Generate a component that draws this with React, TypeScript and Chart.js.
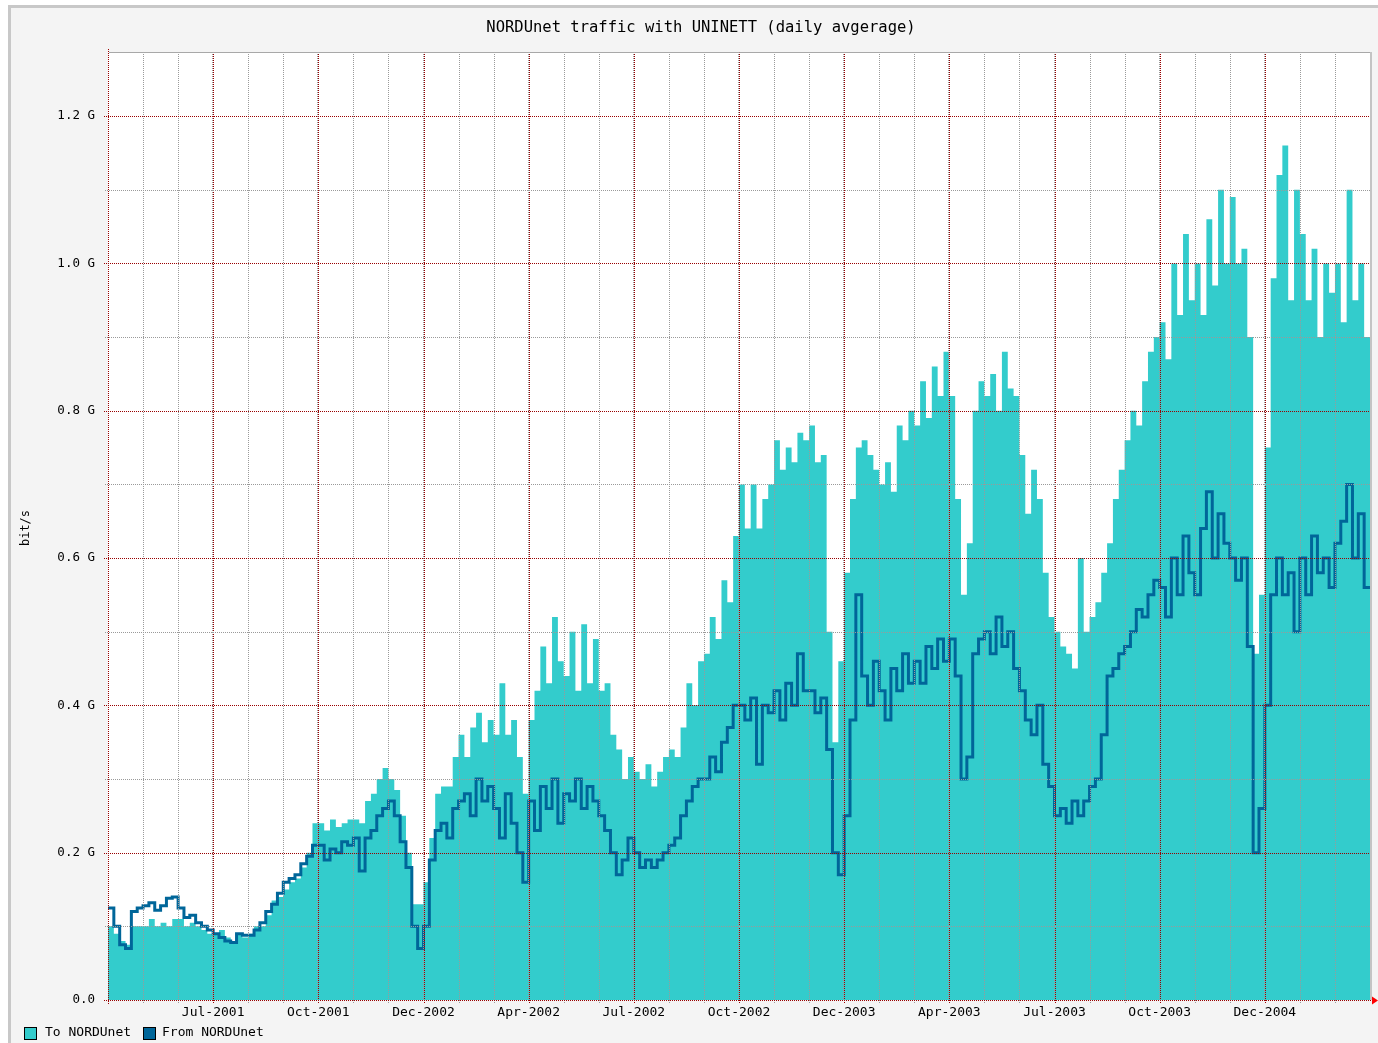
import React, { useEffect, useRef } from 'react';
import { Chart, registerables } from 'chart.js';

Chart.register(...registerables);

const MONO = '"DejaVu Sans Mono", "Liberation Mono", monospace';

// x axis: months since 1 Apr 2001 (0 .. 36), six samples per month
const SAMPLES_PER_MONTH = 6;
const MONTHS = 36;
const xLabelMonths = [3, 6, 9, 12, 15, 18, 21, 24, 27, 30, 33];
const xTickLabels = [
  'Jul-2001', 'Oct-2001', 'Dec-2002', 'Apr-2002', 'Jul-2002', 'Oct-2002',
  'Dec-2003', 'Apr-2003', 'Jul-2003', 'Oct-2003', 'Dec-2004',
];
const yTickValues = [0, 0.1, 0.2, 0.3, 0.4, 0.5, 0.6, 0.7, 0.8, 0.9, 1.0, 1.1, 1.2];
const yMax = 1.287;

// To NORDUnet (Gbit/s), one row per month
const toNordunet = [
  0.1, 0.09, 0.08, 0.075, 0.1, 0.1,
  0.1, 0.11, 0.1, 0.105, 0.1, 0.11,
  0.11, 0.1, 0.105, 0.1, 0.095, 0.09,
  0.09, 0.095, 0.085, 0.08, 0.09, 0.085,
  0.09, 0.1, 0.1, 0.115, 0.135, 0.14,
  0.15, 0.16, 0.165, 0.18, 0.2, 0.24,
  0.24, 0.23, 0.245, 0.235, 0.24, 0.245,
  0.245, 0.24, 0.27, 0.28, 0.3, 0.315,
  0.3, 0.285, 0.25, 0.2, 0.13, 0.13,
  0.16, 0.22, 0.28, 0.29, 0.29, 0.33,
  0.36, 0.33, 0.37, 0.39, 0.35, 0.38,
  0.36, 0.43, 0.36, 0.38, 0.33, 0.28,
  0.38, 0.42, 0.48, 0.43, 0.52, 0.46,
  0.44, 0.5, 0.42, 0.51, 0.43, 0.49,
  0.42, 0.43, 0.36, 0.34, 0.3, 0.33,
  0.31, 0.3, 0.32, 0.29, 0.31, 0.33,
  0.34, 0.33, 0.37, 0.43, 0.4, 0.46,
  0.47, 0.52, 0.49, 0.57, 0.54, 0.63,
  0.7, 0.64, 0.7, 0.64, 0.68, 0.7,
  0.76, 0.72, 0.75, 0.73, 0.77, 0.76,
  0.78, 0.73, 0.74, 0.5, 0.35, 0.46,
  0.58, 0.68, 0.75, 0.76, 0.74, 0.72,
  0.7, 0.73, 0.69, 0.78, 0.76, 0.8,
  0.78, 0.84, 0.79, 0.86, 0.82, 0.88,
  0.82, 0.68, 0.55, 0.62, 0.8, 0.84,
  0.82, 0.85, 0.8, 0.88, 0.83, 0.82,
  0.74, 0.66, 0.72, 0.68, 0.58, 0.52,
  0.5, 0.48, 0.47, 0.45, 0.6, 0.5,
  0.52, 0.54, 0.58, 0.62, 0.68, 0.72,
  0.76, 0.8, 0.78, 0.84, 0.88, 0.9,
  0.92, 0.87, 1.0, 0.93, 1.04, 0.95,
  1.0, 0.93, 1.06, 0.97, 1.1, 1.0,
  1.09, 1.0, 1.02, 0.9, 0.47, 0.55,
  0.75, 0.98, 1.12, 1.16, 0.95, 1.1,
  1.04, 0.95, 1.02, 0.9, 1.0, 0.96,
  1.0, 0.92, 1.1, 0.95, 1.0, 0.9,
];

// From NORDUnet (Gbit/s), one row per month
const fromNordunet = [
  0.125, 0.1, 0.075, 0.07, 0.12, 0.125,
  0.128, 0.132, 0.122, 0.128, 0.138, 0.14,
  0.125, 0.112, 0.115, 0.105, 0.1, 0.095,
  0.09, 0.085, 0.08, 0.078, 0.09, 0.088,
  0.088, 0.095, 0.105, 0.12, 0.13, 0.145,
  0.16, 0.165, 0.17, 0.185, 0.195, 0.21,
  0.21, 0.19, 0.205, 0.2, 0.215, 0.21,
  0.22, 0.175, 0.22, 0.23, 0.25, 0.26,
  0.27, 0.25, 0.215, 0.18, 0.1, 0.07,
  0.1, 0.19, 0.23, 0.24, 0.22, 0.26,
  0.27, 0.28, 0.25, 0.3, 0.27, 0.29,
  0.26, 0.22, 0.28, 0.24, 0.2, 0.16,
  0.27, 0.23, 0.29, 0.26, 0.3, 0.24,
  0.28, 0.27, 0.3, 0.26, 0.29, 0.27,
  0.25, 0.23, 0.2, 0.17, 0.19, 0.22,
  0.2, 0.18, 0.19, 0.18, 0.19, 0.2,
  0.21, 0.22, 0.25, 0.27, 0.29, 0.3,
  0.3, 0.33, 0.31, 0.35, 0.37, 0.4,
  0.4, 0.38, 0.41, 0.32, 0.4, 0.39,
  0.42, 0.38, 0.43, 0.4, 0.47, 0.42,
  0.42, 0.39, 0.41, 0.34, 0.2, 0.17,
  0.25, 0.38, 0.55, 0.44, 0.4, 0.46,
  0.42, 0.38, 0.45, 0.42, 0.47, 0.43,
  0.46, 0.43, 0.48, 0.45, 0.49, 0.46,
  0.49, 0.44, 0.3, 0.33, 0.47, 0.49,
  0.5, 0.47, 0.52, 0.48, 0.5, 0.45,
  0.42, 0.38, 0.36, 0.4, 0.32, 0.29,
  0.25, 0.26, 0.24, 0.27, 0.25, 0.27,
  0.29, 0.3, 0.36, 0.44, 0.45, 0.47,
  0.48, 0.5, 0.53, 0.52, 0.55, 0.57,
  0.56, 0.52, 0.6, 0.55, 0.63, 0.58,
  0.55, 0.64, 0.69, 0.6, 0.66, 0.62,
  0.6, 0.57, 0.6, 0.48, 0.2, 0.26,
  0.4, 0.55, 0.6, 0.55, 0.58, 0.5,
  0.6, 0.55, 0.63, 0.58, 0.6, 0.56,
  0.62, 0.65, 0.7, 0.6, 0.66, 0.56,
];

const TO_COLOR = '#33cccc';
const FROM_COLOR = '#006699';
const MAJOR = '#990000';
const MINOR = '#9a9a9a';

function toPoints(arr: number[]) {
  const pts = arr.map((v, i) => ({ x: i / SAMPLES_PER_MONTH, y: v }));
  pts.push({ x: MONTHS, y: arr[arr.length - 1] });
  return pts;
}

const rrdPlugin = {
  id: 'rrdFrame',
  beforeDatasetsDraw(chart: any) {
    const { ctx, chartArea: a } = chart;
    ctx.save();
    ctx.fillStyle = '#ffffff';
    ctx.fillRect(a.left, a.top, a.right - a.left, a.bottom - a.top);
    ctx.restore();
  },
  afterDatasetsDraw(chart: any) {
    const { ctx, chartArea: a, scales } = chart;
    const xs = scales.x;
    const ys = scales.y;
    ctx.save();
    ctx.lineWidth = 1;
    ctx.setLineDash([1, 1]);
    const line = (x1: number, y1: number, x2: number, y2: number, c: string) => {
      ctx.strokeStyle = c;
      ctx.beginPath();
      ctx.moveTo(x1, y1);
      ctx.lineTo(x2, y2);
      ctx.stroke();
    };
    // vertical grid
    for (let m = 1; m < MONTHS; m++) {
      const px = Math.round(xs.getPixelForValue(m)) + 0.5;
      const major = m % 3 === 0;
      if (major) {
        line(px - 1, a.top, px - 1, a.bottom, MINOR);
        line(px, a.top, px, a.bottom + 4, MAJOR);
      } else {
        line(px, a.top, px, a.bottom + 3, MINOR);
      }
    }
    // horizontal grid
    yTickValues.forEach((v) => {
      if (v === 0) return;
      const py = Math.round(ys.getPixelForValue(v)) + 0.5;
      const major = Math.round(v * 10) % 2 === 0;
      line(a.left - (major ? 4 : 3), py, a.right, py, major ? MAJOR : MINOR);
    });
    // axes
    const lx = Math.round(a.left) + 0.5;
    const by = Math.round(a.bottom) + 0.5;
    line(lx, a.top - 3, lx, a.bottom + 4, MAJOR);
    line(a.left - 4, by, a.right + 2, by, MAJOR);
    ctx.setLineDash([]);
    // top border
    ctx.strokeStyle = '#a8a8a8';
    ctx.beginPath();
    ctx.moveTo(a.left + 1, Math.round(a.top) + 0.5);
    ctx.lineTo(a.right, Math.round(a.top) + 0.5);
    ctx.stroke();
    // right border
    ctx.strokeStyle = '#c4c4c4';
    ctx.lineWidth = 2;
    ctx.beginPath();
    ctx.moveTo(a.right + 1, a.top);
    ctx.lineTo(a.right + 1, a.bottom);
    ctx.stroke();
    // arrow at end of x axis
    ctx.fillStyle = '#ff0000';
    ctx.beginPath();
    ctx.moveTo(a.right + 2, by - 4);
    ctx.lineTo(a.right + 8, by);
    ctx.lineTo(a.right + 2, by + 4);
    ctx.closePath();
    ctx.fill();
    ctx.restore();
  },
  afterDraw(chart: any) {
    const { ctx } = chart;
    ctx.save();
    ctx.fillStyle = '#000';
    ctx.textBaseline = 'middle';
    ctx.textAlign = 'center';
    ctx.font = `15.5px ${MONO}`;
    ctx.fillText('NORDUnet traffic with UNINETT (daily avgerage)', 701, 28);
    // y axis unit
    ctx.save();
    ctx.translate(26, 528);
    ctx.rotate(-Math.PI / 2);
    ctx.font = `12px ${MONO}`;
    ctx.fillText('bit/s', 0, 0);
    ctx.restore();
    // legend
    ctx.textAlign = 'left';
    ctx.font = `13px ${MONO}`;
    const items = [
      { x: 24, tx: 45, c: TO_COLOR, t: 'To NORDUnet' },
      { x: 143, tx: 162, c: FROM_COLOR, t: 'From NORDUnet' },
    ];
    items.forEach((it) => {
      ctx.fillStyle = it.c;
      ctx.fillRect(it.x + 0.5, 1027.5, 12, 12);
      ctx.strokeStyle = '#000';
      ctx.lineWidth = 1;
      ctx.strokeRect(it.x + 0.5, 1027.5, 12, 12);
      ctx.fillStyle = '#000';
      ctx.fillText(it.t, it.tx, 1033);
    });
    ctx.restore();
  },
};

export default function App() {
  const ref = useRef<HTMLCanvasElement | null>(null);
  useEffect(() => {
    if (!ref.current) return;
    const chart = new Chart(ref.current, {
      type: 'line',
      data: {
        datasets: [
          {
            label: 'From NORDUnet',
            data: toPoints(fromNordunet),
            stepped: 'before',
            fill: false,
            borderColor: FROM_COLOR,
            borderWidth: 3,
            pointRadius: 0,
            order: 1,
          },
          {
            label: 'To NORDUnet',
            data: toPoints(toNordunet),
            stepped: 'before',
            fill: 'origin',
            backgroundColor: TO_COLOR,
            borderColor: TO_COLOR,
            borderWidth: 0,
            pointRadius: 0,
            order: 2,
          },
        ],
      } as any,
      options: {
        animation: false,
        responsive: false,
        devicePixelRatio: 1,
        layout: { padding: { top: 52, right: 8, left: 0, bottom: 0 } },
        plugins: {
          legend: { display: false },
          title: { display: false },
          tooltip: { enabled: false },
        },
        scales: {
          x: {
            type: 'linear',
            min: 0,
            max: MONTHS,
            grid: { display: false },
            border: { display: false },
            afterFit: (s: any) => { s.height = 43; },
            afterBuildTicks: (s: any) => {
              const t = [];
              for (let m = 0; m <= MONTHS; m++) t.push({ value: m });
              s.ticks = t;
            },
            ticks: {
              autoSkip: false,
              maxRotation: 0,
              padding: -3,
              color: '#000',
              font: { family: MONO, size: 13 },
              callback: (v: any) => {
                const i = xLabelMonths.indexOf(Math.round(Number(v)));
                return i >= 0 ? xTickLabels[i] : '';
              },
            },
          },
          y: {
            type: 'linear',
            min: 0,
            max: yMax,
            grid: { display: false },
            border: { display: false },
            afterFit: (s: any) => { s.width = 108; },
            afterBuildTicks: (s: any) => {
              s.ticks = yTickValues.map((v) => ({ value: v }));
            },
            ticks: {
              autoSkip: false,
              padding: 5,
              color: '#000',
              font: { family: MONO, size: 12.5 },
              callback: (v: any) => {
                const n = Math.round(Number(v) * 10);
                if (n % 2 !== 0) return '';
                return n === 0 ? '0.0' : (n / 10).toFixed(1) + ' G';
              },
            },
          },
        },
      } as any,
      plugins: [rrdPlugin],
    });
    return () => chart.destroy();
  }, []);

  return (
    <div style={{ position: 'absolute', left: 0, top: 0, width: 1378, height: 1043, background: '#ffffff', overflow: 'hidden' }}>
      <div style={{ position: 'absolute', left: 8, top: 5, right: 0, bottom: 0, background: '#f4f4f4', borderLeft: '3px solid #c8c8c8', borderTop: '3px solid #c8c8c8' }} />
      <canvas ref={ref} width={1378} height={1043} style={{ position: 'absolute', left: 0, top: 0, width: 1378, height: 1043 }} />
    </div>
  );
}
